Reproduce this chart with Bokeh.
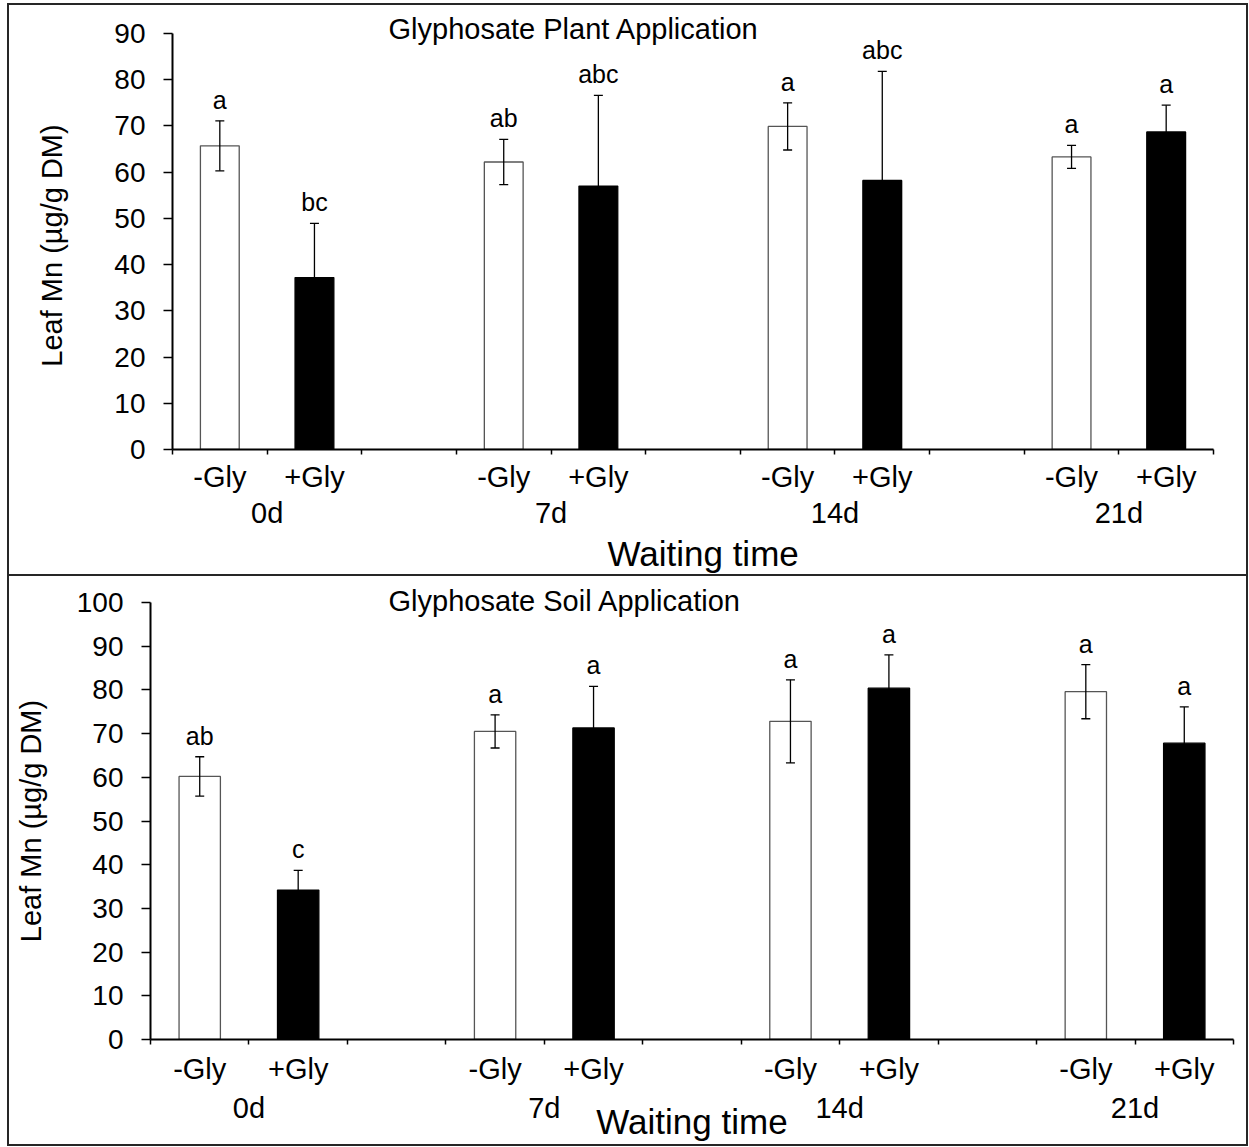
from bokeh.plotting import figure
from bokeh.models import (FactorRange, Range1d, ColumnDataSource, Whisker, TeeHead,
                          LabelSet, Title, LinearAxis, FixedTicker, Spacer)
from bokeh.core.properties import value
from bokeh.layouts import column
from bokeh.embed import file_html
from bokeh.resources import INLINE

# Waiting time after glyphosate treatment and treatment level
days = ["0d", "7d", "14d", "21d"]
treatments = ["-Gly", "+Gly"]

# Leaf Mn (µg/g DM), glyphosate applied to the plant
plant_mean = [65.7, 37.2, 62.2, 57.0, 69.9, 58.2, 63.3, 68.7]
plant_err = [5.4, 11.7, 4.9, 19.6, 5.1, 23.6, 2.5, 5.8]
plant_letters = ["a", "bc", "ab", "abc", "a", "abc", "a", "a"]

# Leaf Mn (µg/g DM), glyphosate applied to the soil
soil_mean = [60.2, 34.2, 70.5, 71.3, 72.8, 80.4, 79.6, 67.8]
soil_err = [4.5, 4.5, 3.8, 9.5, 9.5, 7.6, 6.2, 8.3]
soil_letters = ["ab", "c", "a", "a", "a", "a", "a", "a"]

FONT = "Liberation Sans"
EDGE = "#262626"
GAP = 1.0  # empty slot between waiting-time groups
factors = [(d, t) for d in days for t in treatments]
n_slots = int(len(factors) + (len(days) - 1) * GAP)

# synthetic category coordinates used by the FactorRange below
slot = len(treatments) + GAP
bar_pos = [i * slot + j + 0.5 for i in range(len(days)) for j in range(len(treatments))]
group_pos = [i * slot + len(treatments) / 2 for i in range(len(days))]


def panel(title, ylabel, means, errs, letters, ymax, height, borders,
          title_off, title_standoff, wait_mode, wait_off, wait_standoff,
          bar_w, sub_standoff, grp_standoff, ylab_standoff):
    left, right, top, bottom = borders
    p = figure(x_range=FactorRange(factors=factors, group_padding=GAP, range_padding=0.0),
               y_range=Range1d(0, ymax), width=1237, height=height,
               output_backend="svg", toolbar_location=None, x_axis_location=None,
               min_border_left=left, min_border_right=right,
               min_border_top=top, min_border_bottom=bottom, frame_align=False)
    p.outline_line_color = None
    p.grid.visible = False
    p.background_fill_color = "white"
    p.border_fill_color = "white"

    # treatment labels under each bar, small ticks on every slot boundary
    sub_axis = LinearAxis(ticker=FixedTicker(ticks=bar_pos, minor_ticks=list(range(n_slots + 1))),
                          major_label_overrides={x: t for x, (_, t) in zip(bar_pos, factors)},
                          major_label_standoff=sub_standoff,
                          major_label_text_font=FONT, major_label_text_font_size="29px",
                          major_label_text_color="black",
                          major_tick_out=0, major_tick_in=0, major_tick_line_color=None,
                          minor_tick_out=5, minor_tick_in=0,
                          minor_tick_line_width=1.5, minor_tick_line_color="black",
                          axis_line_width=2, axis_line_color="black")
    p.add_layout(sub_axis, "below")

    # waiting-time group labels
    grp_axis = LinearAxis(ticker=FixedTicker(ticks=group_pos),
                          major_label_overrides={x: d for x, d in zip(group_pos, days)},
                          major_label_standoff=grp_standoff,
                          major_label_text_font=FONT, major_label_text_font_size="29px",
                          major_label_text_color="black",
                          major_tick_out=0, major_tick_in=0, major_tick_line_color=None,
                          minor_tick_out=0, minor_tick_in=0, minor_tick_line_color=None,
                          axis_line_color=None)
    p.add_layout(grp_axis, "below")

    if wait_mode == "title":
        p.add_layout(Title(text="Waiting time", align="left", offset=wait_off,
                           standoff=wait_standoff, text_font=FONT, text_font_size="35px",
                           text_font_style="normal", text_color="black"), "below")
    else:
        grp_axis.axis_label = "Waiting time"
        grp_axis.axis_label_standoff = wait_standoff
        grp_axis.axis_label_text_font = FONT
        grp_axis.axis_label_text_font_size = "35px"
        grp_axis.axis_label_text_font_style = "normal"
        grp_axis.axis_label_text_color = "black"

    p.add_layout(Title(text=title, align="left", offset=title_off,
                       standoff=title_standoff, text_font=FONT, text_font_size="29px",
                       text_font_style="normal", text_color="black"), "above")

    ya = p.yaxis[0]
    ya.ticker = FixedTicker(ticks=list(range(0, ymax + 1, 10)))
    ya.major_tick_out = 9
    ya.major_tick_in = 0
    ya.minor_tick_out = 0
    ya.minor_tick_in = 0
    ya.axis_line_width = 2
    ya.axis_line_color = "black"
    ya.major_tick_line_width = 1.5
    ya.major_tick_line_color = "black"
    ya.major_label_text_font = FONT
    ya.major_label_text_font_size = "28px"
    ya.major_label_text_color = "black"
    ya.major_label_standoff = 18
    ya.axis_label = ylabel
    ya.axis_label_text_font = FONT
    ya.axis_label_text_font_size = "29px"
    ya.axis_label_text_font_style = "normal"
    ya.axis_label_text_color = "black"
    ya.axis_label_standoff = ylab_standoff

    src = ColumnDataSource(data=dict(
        x=factors,
        mean=means,
        upper=[m + e for m, e in zip(means, errs)],
        lower=[m - e for m, e in zip(means, errs)],
        letter=letters,
        fill=["white" if t == "-Gly" else "black" for _, t in factors],
        line=["#555555" if t == "-Gly" else "black" for _, t in factors],
    ))

    p.vbar(x="x", top="mean", width=bar_w, source=src,
           fill_color="fill", line_color="line", line_width=1.3)

    p.add_layout(Whisker(base="x", upper="upper", lower="lower", source=src,
                         level="annotation", line_color="black", line_width=1.3,
                         upper_head=TeeHead(size=9, line_width=1.3, line_color="black"),
                         lower_head=TeeHead(size=9, line_width=1.3, line_color="black")))

    p.add_layout(LabelSet(x="x", y="upper", text="letter", source=src,
                          y_offset=12, text_align="center", text_baseline="alphabetic",
                          text_font=value(FONT), text_font_size="25px", text_color="black"))
    return p


top = panel("Glyphosate Plant Application", "Leaf  Mn (µg/g DM)",
            plant_mean, plant_err, plant_letters, 90, 569, (163, 33, 28, 125),
            title_off=216, title_standoff=-22, wait_mode="title", wait_off=435, wait_standoff=1,
            bar_w=0.41, sub_standoff=6, grp_standoff=1, ylab_standoff=43)

bottom = panel("Glyphosate Soil Application", "Leaf Mn (µg/g DM)",
               soil_mean, soil_err, soil_letters, 100, 568, (141, 13, 26, 105),
               title_off=238, title_standoff=-28, wait_mode="axis", wait_off=0, wait_standoff=-25,
               bar_w=0.42, sub_standoff=8, grp_standoff=4, ylab_standoff=27)

divider = Spacer(width=1237, height=2, margin=0, styles={"background-color": EDGE})

layout = column(top, divider, bottom, spacing=0, margin=(5, 0, 0, 9),
                styles={"outline": "2px solid " + EDGE})

open("out.html", "w").write(file_html(layout, INLINE))
